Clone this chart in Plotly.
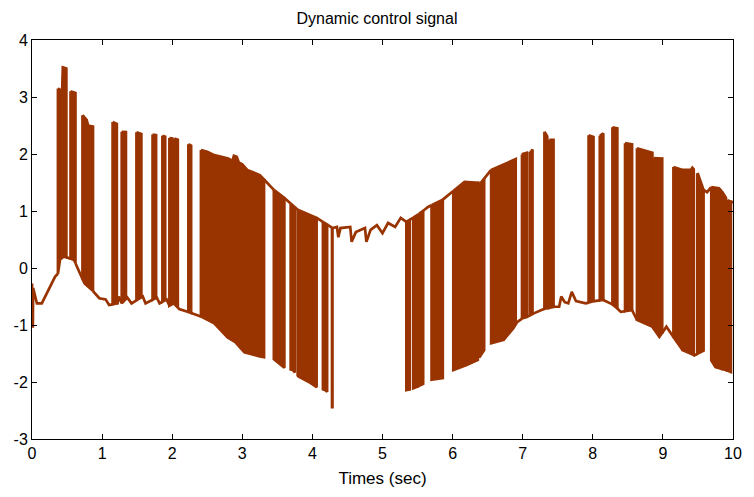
import numpy as np
import plotly.graph_objects as go

# Lower envelope of the control signal (time s, value)
low_t = [0.000, 0.004, 0.012, 0.016, 0.07, 0.14, 0.25, 0.33, 0.37, 0.40, 0.45, 0.52, 0.60, 0.68, 0.75,
         0.86, 0.96, 1.05, 1.10, 1.22, 1.24, 1.28, 1.36, 1.42, 1.58, 1.62, 1.78, 1.82, 1.92, 1.96, 2.02,
         2.10, 2.30, 2.41, 2.60, 2.79, 2.90, 3.03, 3.25, 3.45, 3.60, 3.72, 3.80, 3.95, 4.06, 4.18, 4.24,
         4.27, 4.31, 4.50, 5.30, 5.36, 5.47, 5.55, 5.70, 5.86, 6.01, 6.20, 6.36, 6.45, 6.55, 6.73, 6.87,
         6.92, 7.00, 7.08, 7.15, 7.30, 7.45, 7.52, 7.55, 7.60, 7.65, 7.70, 7.76, 7.90, 8.02, 8.15, 8.30,
         8.40, 8.56, 8.63, 8.85, 8.95, 9.05, 9.15, 9.28, 9.45, 9.60, 9.75, 9.90, 10.0]
low_y = [-0.27, -1.05, -1.05, -0.35, -0.62, -0.62, -0.35, -0.15, -0.10, 0.15, 0.20, 0.18, 0.14, -0.09, -0.27,
         -0.39, -0.53, -0.55, -0.65, -0.62, -0.50, -0.62, -0.52, -0.62, -0.50, -0.62, -0.52, -0.62, -0.55, -0.66, -0.62,
         -0.72, -0.80, -0.85, -0.97, -1.22, -1.30, -1.48, -1.55, -1.60, -1.75, -1.79, -1.90, -2.00, -2.09, -2.14, -2.20,
         -2.44, -2.44, -2.30, -2.15, -2.14, -2.10, -2.05, -1.96, -1.93, -1.79, -1.70, -1.61, -1.44, -1.32, -1.26, -1.05,
         -0.95, -0.88, -0.85, -0.80, -0.72, -0.68, -0.68, -0.50, -0.60, -0.62, -0.42, -0.58, -0.62, -0.58, -0.56, -0.65,
         -0.77, -0.74, -0.91, -1.03, -1.21, -1.03, -1.21, -1.44, -1.53, -1.44, -1.74, -1.79, -1.84]

# Upper envelope of the control signal (time s, value)
high_t = [0.30, 0.37, 0.43, 0.44, 0.49, 0.55, 0.62, 0.72, 0.78, 0.80, 0.87, 1.15, 1.21, 1.28, 1.49, 1.56,
          1.72, 1.77, 1.86, 1.96, 2.03, 2.08, 2.23, 2.41, 2.50, 2.60, 2.80, 2.86, 2.88, 2.92, 2.95, 3.00,
          3.07, 3.25, 3.32, 3.45, 3.60, 3.70, 3.79, 4.06, 4.29, 4.35, 4.37, 4.40, 4.54, 4.56, 4.62, 4.75,
          4.77, 4.83, 4.92, 5.00, 5.08, 5.18, 5.26, 5.34, 5.50, 5.65, 5.85, 6.03, 6.17, 6.40, 6.55, 6.87,
          6.90, 7.00, 7.12, 7.31, 7.38, 7.44, 7.94, 8.01, 8.10, 8.28, 8.35, 8.46, 8.56, 8.63, 8.85, 8.87,
          8.99, 9.15, 9.28, 9.40, 9.42, 9.50, 9.58, 9.63, 9.69, 9.80, 9.85, 9.92, 10.0]
high_y = [3.15, 3.15, 3.10, 3.52, 3.50, 3.10, 3.07, 2.68, 2.60, 2.50, 2.48, 2.56, 2.53, 2.39, 2.38, 2.35,
          2.34, 2.33, 2.32, 2.28, 2.27, 2.25, 2.17, 2.07, 2.04, 1.98, 1.92, 1.88, 1.97, 1.95, 1.85, 1.82,
          1.72, 1.63, 1.54, 1.37, 1.23, 1.12, 1.02, 0.88, 0.70, 0.72, 0.54, 0.70, 0.72, 0.46, 0.63, 0.70,
          0.46, 0.67, 0.75, 0.61, 0.79, 0.72, 0.88, 0.81, 0.93, 1.07, 1.19, 1.37, 1.51, 1.49, 1.72, 1.89,
          1.91, 2.00, 2.04, 2.39, 2.25, 2.25, 2.33, 2.30, 2.32, 2.47, 2.45, 2.19, 2.17, 2.10, 2.02, 1.93,
          1.92, 1.77, 1.72, 1.72, 1.76, 1.65, 1.37, 1.33, 1.42, 1.40, 1.33, 1.19, 1.15]

# Switching bursts (start, end in s): signal toggles between envelopes
block_start = [0.37, 0.55, 0.72, 1.15, 1.28, 1.49, 1.72, 1.86, 1.96, 2.03, 2.23, 2.41, 3.45, 3.69, 3.79,
               4.15, 4.280, 5.34, 5.44, 5.52, 5.70, 6.01, 6.38, 6.55, 6.99, 7.10, 7.31, 7.38, 7.94, 8.10,
               8.28, 8.46, 8.63, 8.87, 9.15, 9.28, 9.49, 9.69, 9.84, 9.92]
block_end = [0.49, 0.62, 0.87, 1.21, 1.34, 1.56, 1.77, 1.90, 2.00, 2.08, 2.27, 3.31, 3.60, 3.75, 4.06,
             4.21, 4.286, 5.39, 5.50, 5.58, 5.86, 6.36, 6.45, 6.90, 7.06, 7.14, 7.35, 7.44, 8.01, 8.15,
             8.35, 8.56, 8.85, 8.99, 9.27, 9.44, 9.58, 9.83, 9.90, 9.97]

# Intervals where the signal rests on the upper envelope
high_rest_start = [3.31, 9.58, 9.97]
high_rest_end = [6.90, 9.69, 10.0]

# Tick labels
x_ticks = [0, 1, 2, 3, 4, 5, 6, 7, 8, 9, 10]
y_ticks = [-3, -2, -1, 0, 1, 2, 3, 4]
y_tick_text = ["-3", "-2", "-1", "0", "1", "2", "3", "4"]

COLOR = "#993300"
LW = 2.7
FONT = "Liberation Sans, Arial, sans-serif"


def envelope(ts, ys, a, b):
    ts = np.asarray(ts, float)
    ys = np.asarray(ys, float)
    inner = ts[(ts > a) & (ts < b)]
    xs = np.concatenate([[a], inner, [b]])
    return list(xs), list(np.interp(xs, ts, ys))


def is_high_rest(t):
    return any(s <= t <= e for s, e in zip(high_rest_start, high_rest_end))


# Resting segments (line trace)
edges = sorted(set([0.0, 10.0] + block_start + block_end + high_rest_start + high_rest_end))
lx, ly = [], []
for a, b in zip(edges[:-1], edges[1:]):
    mid = 0.5 * (a + b)
    in_block = any(s <= mid <= e for s, e in zip(block_start, block_end))
    if in_block:
        if lx and lx[-1] is not None:
            lx.append(None)
            ly.append(None)
        continue
    if is_high_rest(mid):
        xs, ys = envelope(high_t, high_y, a, b)
    else:
        xs, ys = envelope(low_t, low_y, a, b)
    lx += xs
    ly += ys

# Switching bursts (filled between envelopes)
fx, fy = [], []
for s, e in zip(block_start, block_end):
    ux, uy = envelope(high_t, high_y, s, e)
    dx, dy = envelope(low_t, low_y, s, e)
    fx += ux + dx[::-1] + [ux[0], None]
    fy += uy + dy[::-1] + [uy[0], None]

fig = go.Figure()
fig.add_trace(go.Scatter(x=fx, y=fy, mode="lines", fill="toself", fillcolor=COLOR,
                         line=dict(color=COLOR, width=LW), hoverinfo="skip", showlegend=False))
fig.add_trace(go.Scatter(x=lx, y=ly, mode="lines", line=dict(color=COLOR, width=LW),
                         showlegend=False, connectgaps=False))

axis_common = dict(showline=True, linecolor="#000000", linewidth=1, mirror="ticks",
                   ticks="inside", ticklen=5, tickcolor="#000000", showgrid=False, zeroline=False,
                   tickfont=dict(family=FONT, size=16, color="#000000"))

fig.update_layout(
    width=754, height=497,
    margin=dict(l=32, r=12, t=40, b=58),
    paper_bgcolor="white", plot_bgcolor="white",
    title=dict(text="Dynamic control signal", x=0.5, xanchor="center", y=0.963, yanchor="middle",
               font=dict(family=FONT, size=16, color="#000000")),
    xaxis=dict(range=[0, 10], tickvals=x_ticks, ticktext=[str(v) for v in x_ticks],
               title=dict(text="Times (sec)", standoff=10,
                          font=dict(family=FONT, size=17, color="#000000")),
               **axis_common),
    yaxis=dict(range=[-3, 4], tickvals=y_ticks, ticktext=y_tick_text, **axis_common),
)

fig.write_html("out.html")
